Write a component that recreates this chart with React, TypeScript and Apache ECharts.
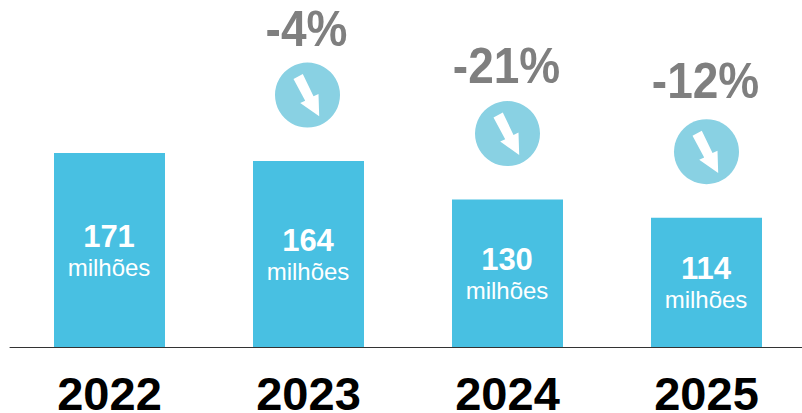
import React, { useEffect, useRef } from "react";
import * as echarts from "echarts";

const years = ["2022", "2023", "2024", "2025"];
const viewers = [171, 164, 130, 114];
const changes = [null, "-4%", "-21%", "-12%"];
const unit = "milhões";

const BAR = "#48C0E2";
const BADGE = "#89D1E3";
const GREY = "#7F7F7F";
const FONT = '"Liberation Sans", Arial, sans-serif';

// Down arrow outline, relative to the centre of its badge.
const arrow = [
  [-14, -16], [-4.7, -21], [6, 1.3], [11, -1], [11.7, 21.3], [-7.3, 8], [-2.3, 5.7],
];

// Distance from each badge centre up to its percentage text.
const changeLift = [0, 67, 68, 72];

export default function App() {
  const ref = useRef<HTMLDivElement>(null);

  useEffect(() => {
    document.body.style.margin = "0";
    const chart = echarts.init(ref.current!, null, { renderer: "svg" });
    chart.setOption({
      animation: false,
      backgroundColor: "#fff",
      grid: { left: 10, top: 0, width: 796, height: 347, containLabel: false, outerBoundsMode: "none" },
      xAxis: {
        type: "category",
        data: years,
        axisTick: { show: false },
        axisLine: { lineStyle: { color: "#333", width: 1 } },
        axisLabel: {
          color: "#000",
          fontFamily: FONT,
          fontWeight: "bold",
          fontSize: 47,
          lineHeight: 40,
          margin: 26,
        },
      },
      yAxis: { type: "value", min: 0, max: 306, show: false },
      series: [
        {
          type: "bar",
          data: viewers,
          barWidth: 111,
          itemStyle: { color: BAR },
          label: {
            show: true,
            position: "inside",
            offset: [-0.5, 2],
            fontFamily: FONT,
            formatter: (p: any) => `{v|${p.value}}\n{u|${unit}}`,
            rich: {
              v: { color: "#fff", fontFamily: FONT, fontWeight: "bold", fontSize: 31, lineHeight: 31 },
              u: { color: "#fff", fontFamily: FONT, fontSize: 24, lineHeight: 31 },
            },
          },
        },
        {
          type: "custom",
          coordinateSystem: "cartesian2d",
          data: viewers.map((v, i) => [i, v]),
          silent: true,
          renderItem: (params: any, api: any) => {
            const change = changes[params.dataIndex];
            if (!change) return { type: "group", children: [] };
            const [x, top] = api.coord([api.value(0), api.value(1)]);
            const cx = params.dataIndex === 1 ? x - 1 : x;
            const cy = top - 66;
            return {
              type: "group",
              children: [
                { type: "circle", shape: { cx, cy, r: 32.5 }, style: { fill: BADGE } },
                {
                  type: "polygon",
                  shape: { points: arrow.map(([dx, dy]) => [cx + dx, cy + dy]) },
                  style: { fill: "#fff" },
                },
                {
                  type: "text",
                  x: cx - 1,
                  y: cy - changeLift[params.dataIndex],
                  scaleY: 1.1,
                  style: {
                    x: 0,
                    y: 0,
                    text: change,
                    fill: GREY,
                    font: `bold 46px ${FONT}`,
                    align: "center",
                    verticalAlign: "middle",
                  },
                },
              ],
            };
          },
        },
      ],
    });
    return () => chart.dispose();
  }, []);

  return <div ref={ref} style={{ width: 802, height: 413 }} />;
}
